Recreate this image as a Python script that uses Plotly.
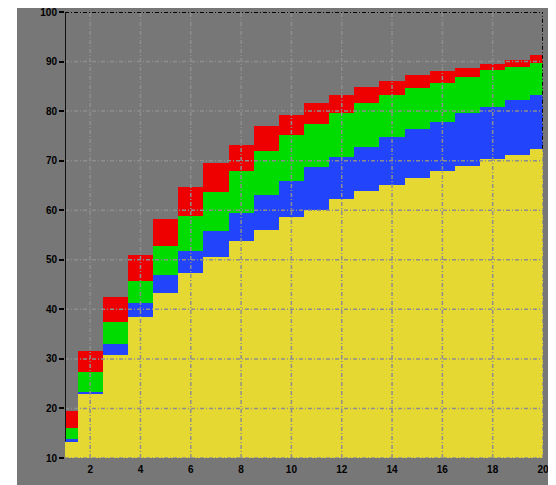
import plotly.graph_objects as go

x_vals = list(range(1, 21))
yellow = [13.4, 23.1, 30.8, 38.4, 43.2, 47.4, 50.6, 53.8, 56.1, 58.7,
          60.0, 62.2, 63.9, 65.1, 66.6, 67.9, 69.0, 70.3, 71.1, 72.4]
blue = [0.4, 0.3, 2.3, 2.8, 3.7, 4.4, 5.2, 5.7, 7.0, 7.2,
        8.7, 8.6, 8.9, 9.7, 9.8, 10.0, 10.6, 10.5, 11.1, 10.9]
green = [2.3, 4.0, 4.4, 4.5, 5.9, 7.1, 7.9, 8.4, 8.9, 9.3,
         8.8, 8.8, 8.8, 8.5, 8.2, 7.7, 7.3, 7.4, 6.8, 6.5]
red = [3.3, 4.1, 4.9, 5.3, 5.4, 5.7, 5.8, 5.3, 4.9, 4.0,
       4.1, 3.7, 3.2, 2.8, 2.7, 2.5, 1.9, 1.4, 1.4, 1.5]

x_ticks = [2, 4, 6, 8, 10, 12, 14, 16, 18, 20]
y_ticks = [10, 20, 30, 40, 50, 60, 70, 80, 90, 100]

GRAY = "#777777"
GRID = "#8e8e8e"
GRID_DASH = "4px,2px,1px,2px"

fig = go.Figure()
for vals, col in [(yellow, "#e5d832"), (blue, "#2244fb"), (green, "#00dc00"), (red, "#ee0000")]:
    fig.add_trace(go.Bar(x=x_vals, y=vals, width=1, marker=dict(color=col, line=dict(width=0)),
                         showlegend=False))

shapes = []
# gray background panel
shapes.append(dict(type="rect", xref="paper", yref="paper", x0=-0.1004, x1=1.1, y0=-0.12, y1=1.05,
                   fillcolor=GRAY, line=dict(width=0), layer="below"))
# grid lines drawn above bars
for yv in y_ticks[:-1]:
    shapes.append(dict(type="line", xref="paper", yref="y", x0=0, x1=1, y0=yv, y1=yv,
                       line=dict(color=GRID, width=1.5, dash=GRID_DASH), layer="above"))
for xv in x_ticks:
    shapes.append(dict(type="line", xref="x", yref="paper", x0=xv, x1=xv, y0=0, y1=1,
                       line=dict(color=GRID, width=1.5, dash=GRID_DASH), layer="above"))
# top border
shapes.append(dict(type="line", xref="paper", yref="y", x0=0, x1=1, y0=100, y1=100,
                   line=dict(color="black", width=2, dash=GRID_DASH), layer="above"))
# right border down to top of the base series
shapes.append(dict(type="line", xref="x", yref="y", x0=x_vals[-1], x1=x_vals[-1], y0=yellow[-1], y1=100,
                   line=dict(color="black", width=2, dash=GRID_DASH), layer="above"))
# left axis down to top of the base series
shapes.append(dict(type="line", xref="x", yref="y", x0=x_vals[0], x1=x_vals[0], y0=yellow[0], y1=100,
                   line=dict(color="#111111", width=2), layer="above"))

tick_font = dict(family="Liberation Sans, Arial, sans-serif", size=10, color="black", weight=700)

fig.update_layout(
    width=556, height=485,
    margin=dict(l=57, r=21, t=4, b=35),
    paper_bgcolor="white",
    plot_bgcolor=GRAY,
    barmode="stack",
    bargap=0,
    shapes=shapes,
    xaxis=dict(range=[1, 20], tickvals=x_ticks, ticktext=[str(v) for v in x_ticks],
               showgrid=False, zeroline=False, showline=False, ticks="outside", ticklen=2,
               tickcolor="rgba(0,0,0,0)", tickfont=tick_font, automargin=False,
               ticklabeloverflow="allow"),
    yaxis=dict(range=[10, 100], tickvals=y_ticks, ticktext=[str(v) for v in y_ticks],
               showgrid=False, zeroline=False, showline=False, ticks="outside", ticklen=5,
               tickwidth=2, tickcolor="black", tickfont=tick_font, automargin=False,
               ticklabeloverflow="allow"),
)

fig.write_html("out.html")
